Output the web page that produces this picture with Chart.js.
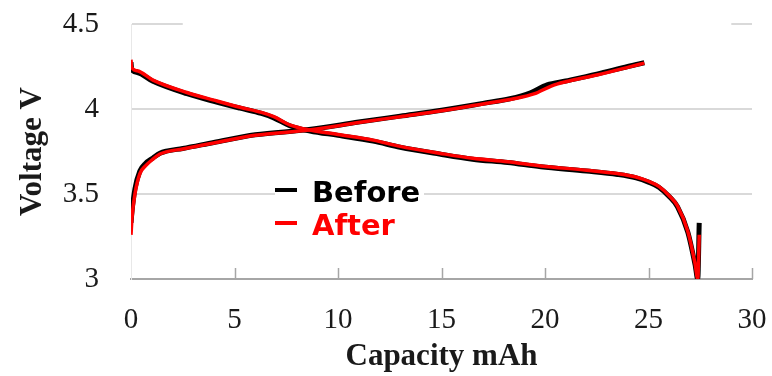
<!DOCTYPE html>
<html>
<head>
<meta charset="utf-8">
<script src="https://cdn.jsdelivr.net/npm/chart.js@4"></script>
<style>
  html, body { margin: 0; padding: 0; background: #fff; }
  #wrap { width: 772px; height: 376px; }
</style>
</head>
<body>
<div id="wrap"><canvas id="chart"></canvas></div>
<script>
// capacity (mAh) / voltage (V)
const chargeCapBefore = [0, 0.05, 0.19, 0.43, 0.7, 1.06, 1.4, 1.7, 2.5, 4, 6, 8.6, 11, 13, 15, 17, 18.3, 19.3, 20.1, 21, 22.5, 24, 24.8];
const chargeVBefore   = [3.33, 3.4, 3.53, 3.635, 3.68, 3.712, 3.74, 3.752, 3.768, 3.803, 3.848, 3.879, 3.923, 3.958, 3.993, 4.033, 4.06, 4.095, 4.142, 4.165, 4.205, 4.25, 4.272];
const chargeCapAfter  = [0, 0.05, 0.19, 0.43, 0.7, 1.06, 1.4, 1.7, 2.5, 4, 6, 8.6, 11, 13, 15, 17, 18.5, 19.5, 20.3, 21, 22.5, 24, 24.8];
const chargeVAfter    = [3.26, 3.36, 3.5, 3.62, 3.665, 3.705, 3.735, 3.748, 3.765, 3.8, 3.845, 3.876, 3.92, 3.955, 3.99, 4.03, 4.06, 4.09, 4.135, 4.16, 4.2, 4.245, 4.27];

const dischCapBefore = [0, 0.03, 0.3, 1.06, 2.7, 4, 5.27, 6.3, 6.9, 7.7, 8.65, 10, 11.7, 13, 14.9, 16.5, 18.2, 19.8, 22, 23.5, 24.4, 25, 25.5, 26, 26.4, 26.9, 27.25, 27.38, 27.45];
const dischVBefore   = [4.275, 4.235, 4.215, 4.163, 4.09, 4.045, 4.005, 3.974, 3.948, 3.9, 3.871, 3.845, 3.811, 3.775, 3.735, 3.705, 3.685, 3.66, 3.635, 3.615, 3.595, 3.57, 3.54, 3.485, 3.425, 3.275, 3.085, 3.0, 3.33];
const dischCapAfter  = [0, 0.03, 0.3, 1.06, 2.7, 4, 5.27, 6.3, 6.9, 7.7, 8.65, 10, 11.7, 13, 14.9, 16.5, 18.2, 19.8, 22, 23.5, 24.4, 25, 25.5, 26, 26.4, 26.9, 27.25, 27.38, 27.45];
const dischVAfter    = [4.29, 4.245, 4.225, 4.17, 4.097, 4.052, 4.01, 3.98, 3.955, 3.905, 3.876, 3.85, 3.817, 3.78, 3.74, 3.71, 3.69, 3.665, 3.64, 3.62, 3.6, 3.575, 3.545, 3.49, 3.43, 3.28, 3.09, 3.0, 3.26];

const xTicks = [0, 5, 10, 15, 20, 25, 30];
const yTicks = [3, 3.5, 4, 4.5];
const seriesNames = ["Before", "After"];
const seriesColors = ["#000000", "#ff0000"];

const pts = (xs, ys) => xs.map((x, i) => ({ x, y: ys[i] }));

function lineSet(label, data, color, width, order) {
  return {
    label, data, borderColor: color, backgroundColor: color,
    borderWidth: width, pointRadius: 0, fill: false,
    cubicInterpolationMode: "monotone", order,
  };
}

const axisPlugin = {
  id: "axisExtras",
  beforeDatasetsDraw(chart) {
    const { ctx, scales: { x, y }, chartArea } = chart;
    ctx.save();
    // top gridline is partly hidden in the original
    ctx.fillStyle = "#fff";
    const yTop = y.getPixelForValue(4.5);
    ctx.fillRect(x.getPixelForValue(2.5), yTop - 3, x.getPixelForValue(29) - x.getPixelForValue(2.5), 6);
    // legend box covers the 3.5 gridline
    ctx.fillRect(chartArea.left + 144, 178, 149, 62);
    // inner tick marks on the x axis
    ctx.strokeStyle = "#a6a6a6";
    ctx.lineWidth = 1.5;
    xTicks.slice(1).forEach((v) => {
      const px = Math.round(x.getPixelForValue(v)) + 0.5;
      ctx.beginPath();
      ctx.moveTo(px, chartArea.bottom);
      ctx.lineTo(px, chartArea.bottom - 11);
      ctx.stroke();
    });
    ctx.restore();
  },
  afterDatasetsDraw(chart) {
    const { ctx, chartArea } = chart;
    ctx.save();
    ctx.font = "bold 29px 'DejaVu Sans'";
    ctx.textBaseline = "alphabetic";
    seriesNames.forEach((name, i) => {
      const base = 202 + i * 33;
      const x0 = chartArea.left + 144;
      ctx.fillStyle = seriesColors[i];
      ctx.fillRect(x0, base - 14, 22, 4);
      ctx.fillText(name, x0 + 37, base);
    });
    ctx.restore();
  },
};

new Chart(document.getElementById("chart"), {
  type: "line",
  data: {
    datasets: [
      lineSet("Before charge", pts(chargeCapBefore, chargeVBefore), seriesColors[0], 5, 2),
      lineSet("Before discharge", pts(dischCapBefore, dischVBefore), seriesColors[0], 5, 2),
      lineSet("After charge", pts(chargeCapAfter, chargeVAfter), seriesColors[1], 3.5, 1),
      lineSet("After discharge", pts(dischCapAfter, dischVAfter), seriesColors[1], 3.5, 1),
    ],
  },
  options: {
    responsive: true,
    maintainAspectRatio: false,
    animation: false,
    layout: { padding: { top: 24, right: 20, left: 0, bottom: 0 } },
    plugins: { legend: { display: false }, tooltip: { enabled: false } },
    scales: {
      x: {
        type: "linear", min: 0, max: 30,
        afterFit: (s) => { s.height = 97; s.paddingLeft = 0; s.paddingRight = 0; },
        afterBuildTicks: (s) => { s.ticks = xTicks.map((v) => ({ value: v })); },
        grid: { display: false, drawTicks: false },
        border: { display: true, color: "#a6a6a6", width: 2 },
        ticks: {
          padding: 24, color: "#1a1a1a",
          font: { family: "'Liberation Serif'", size: 29 },
        },
        title: {
          display: true, text: "Capacity mAh", color: "#1a1a1a",
          font: { family: "'Liberation Serif'", size: 31, weight: "bold" },
          padding: { top: 0, bottom: 0 },
        },
      },
      y: {
        type: "linear", min: 3, max: 4.5,
        afterFit: (s) => { s.width = 131; s.paddingTop = 0; s.paddingBottom = 0; },
        afterBuildTicks: (s) => { s.ticks = yTicks.map((v) => ({ value: v })); },
        grid: {
          drawTicks: false, lineWidth: 2,
          color: (c) => (c.tick && c.tick.value === 3 ? "rgba(0,0,0,0)" : "#d9d9d9"),
        },
        border: { display: true, color: "#e8e8e8", width: 1 },
        ticks: {
          padding: 32, color: "#1a1a1a",
          font: { family: "'Liberation Serif'", size: 29 },
          callback: (v) => String(v),
        },
        title: {
          display: true, text: "Voltage V", color: "#1a1a1a",
          font: { family: "'Liberation Serif'", size: 31, weight: "bold" },
          padding: { top: 14, bottom: 0 },
        },
      },
    },
  },
  plugins: [axisPlugin],
});
</script>
</body>
</html>
